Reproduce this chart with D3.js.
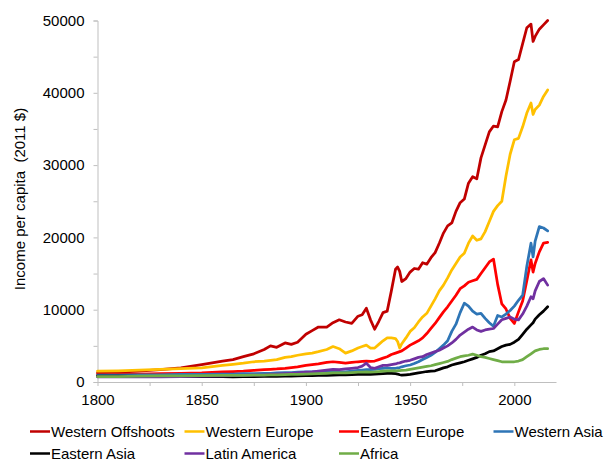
<!DOCTYPE html>
<html>
<head>
<meta charset="utf-8">
<script src="https://cdn.jsdelivr.net/npm/d3@7"></script>
<style>
  body { margin: 0; background: #fff; }
  svg { display: block; font-family: "Liberation Sans", Arial, sans-serif; }
</style>
</head>
<body>
<div id="chart"></div>
<script>
(function(d3) {
  'use strict';

  var years = [1800, 1810, 1820, 1830, 1840, 1850, 1860, 1865, 1870, 1875,
    1880, 1883, 1886, 1890, 1893, 1896, 1900, 1903, 1906, 1910,
    1913, 1916, 1919, 1922, 1925, 1927, 1929, 1931, 1933, 1935,
    1937, 1939, 1941, 1943, 1944, 1945, 1946, 1948, 1950, 1952,
    1954, 1956, 1958, 1960, 1962, 1964, 1966, 1968, 1970, 1972,
    1974, 1976, 1978, 1980, 1982, 1984, 1986, 1988, 1990, 1992,
    1994, 1996, 1998, 2000, 2002, 2004, 2006, 2008, 2009, 2010,
    2012, 2014, 2016];

  var westernOffshoots = [1250, 1350, 1500, 1700, 1950, 2400, 2900, 3100, 3500, 3900,
    4500, 5000, 4800, 5400, 5200, 5500, 6600, 7100, 7600, 7600,
    8200, 8600, 8300, 8100, 9100, 9300, 10200, 8600, 7300, 8400,
    9600, 9800, 12600, 15600, 15900, 15300, 13900, 14300, 15200, 15700,
    15600, 16500, 16300, 17200, 17900, 19200, 20600, 21600, 22000, 23600,
    24800, 25300, 27500, 28400, 28100, 31000, 32800, 34600, 35400, 35300,
    37400, 39000, 41600, 44300, 44600, 46800, 49000, 49500, 47100, 47800,
    48800, 49400, 50000];

  var westernEurope = [1500, 1550, 1650, 1750, 1850, 1950, 2300, 2450, 2600, 2800,
    2900, 3000, 3100, 3400, 3500, 3700, 3900, 4000, 4200, 4500,
    4900, 4600, 4000, 4300, 4700, 4900, 5100, 4700, 4700, 5200,
    5700, 6100, 6100, 6000, 5600, 4700, 5300, 6100, 7000, 7500,
    8300, 9000, 9500, 10500, 11500, 12600, 13400, 14400, 15500, 16400,
    17300, 17800, 19200, 20200, 19600, 19800, 20800, 22200, 23600, 24400,
    25000, 28500, 31500, 33500, 33700, 35300, 37200, 38600, 37000, 37700,
    38300, 39500, 40400];

  var easternEurope = [1000, 1050, 1100, 1150, 1200, 1250, 1400, 1450, 1500, 1600,
    1700, 1750, 1800, 1900, 2000, 2100, 2300, 2400, 2500, 2700,
    2800, 2700, 2600, 2700, 2800, 2850, 2900, 2850, 2900, 3100,
    3300, 3500, 3800, 4000, 4100, 4200, 4300, 4700, 5100, 5400,
    5700, 6100, 6700, 7400, 8100, 8900, 9700, 10400, 11200, 12000,
    12900, 13300, 13800, 14000, 14200, 15000, 15800, 16600, 17000, 13500,
    10800, 10100, 8800, 8100, 9700, 11200, 14000, 16900, 15200, 16400,
    18000, 19200, 19300];

  var westernAsia = [950, 950, 1000, 1000, 1050, 1050, 1100, 1100, 1150, 1150,
    1200, 1200, 1250, 1300, 1300, 1350, 1400, 1400, 1450, 1500,
    1550, 1450, 1400, 1500, 1600, 1650, 1700, 1700, 1750, 1850,
    1900, 1950, 1900, 1900, 1950, 2000, 2100, 2250, 2350, 2550,
    2800, 3100, 3400, 3700, 4100, 4600, 5100, 5700, 7000, 8000,
    9600, 10900, 10500, 9800, 9400, 9500, 8800, 8200, 7700, 9200,
    9000, 9400, 9900, 10500, 11300, 12000, 16000, 19200, 17300, 19500,
    21500, 21300, 20900];

  var easternAsia = [800, 800, 780, 770, 760, 750, 730, 720, 730, 750,
    770, 780, 790, 810, 820, 840, 870, 880, 900, 930,
    960, 980, 1000, 1020, 1040, 1060, 1080, 1070, 1090, 1120,
    1150, 1180, 1200, 1150, 1100, 1000, 950, 1000, 1050, 1150,
    1250, 1350, 1450, 1500, 1550, 1750, 1950, 2100, 2350, 2500,
    2650, 2800, 3000, 3200, 3400, 3700, 3900, 4200, 4300, 4600,
    4900, 5100, 5200, 5500, 5900, 6600, 7300, 7900, 8200, 8700,
    9300, 9800, 10400];

  var latinAmerica = [700, 700, 700, 720, 750, 800, 850, 870, 900, 950,
    1000, 1050, 1100, 1150, 1200, 1250, 1350, 1400, 1500, 1650,
    1750, 1700, 1800, 1900, 2000, 2200, 2600, 2000, 1900, 2100,
    2300, 2300, 2400, 2500, 2600, 2650, 2750, 2900, 3000, 3200,
    3400, 3500, 3800, 4000, 4200, 4400, 4700, 5000, 5400, 5900,
    6500, 6900, 7300, 7600, 7200, 7000, 7200, 7300, 7400, 8000,
    8600, 8800, 9000, 8700, 8600, 9400, 10500, 11800, 11500, 12600,
    13900, 14300, 13400];

  var africa = [750, 750, 800, 850, 850, 870, 900, 900, 920, 940,
    960, 980, 1000, 1020, 1040, 1060, 1100, 1120, 1150, 1200,
    1250, 1250, 1250, 1300, 1350, 1380, 1400, 1380, 1400, 1450,
    1500, 1550, 1550, 1550, 1560, 1580, 1600, 1650, 1750, 1850,
    1950, 2050, 2150, 2250, 2400, 2550, 2700, 2850, 3100, 3300,
    3500, 3600, 3700, 3850, 3700, 3500, 3400, 3250, 3100, 2950,
    2800, 2800, 2800, 2800, 2900, 3100, 3500, 3900, 4100, 4300,
    4500, 4600, 4600];

  var seriesNames = ['Western Offshoots', 'Western Europe', 'Eastern Europe', 'Western Asia',
    'Eastern Asia', 'Latin America', 'Africa'];
  var seriesValues = [westernOffshoots, westernEurope, easternEurope, westernAsia,
    easternAsia, latinAmerica, africa];
  var seriesColors = ['#C00000', '#FFC000', '#FF0000', '#2E75B6', '#000000', '#7030A0', '#70AD47'];

  var width = 606;
  var height = 460;

  var x = d3.scaleLinear().domain([1800, 2020]).range([97.5, 556]);
  var y = d3.scaleLinear().domain([0, 50000]).range([382, 20.5]);

  var svg = d3.select('#chart')
    .append('svg')
    .attr('width', width)
    .attr('height', height);

  // y axis
  var yAxis = svg.append('g')
    .attr('transform', 'translate(' + x(1800) + ',0)')
    .call(d3.axisLeft(y).tickValues(d3.range(0, 50001, 5000)).tickSize(4)
      .tickFormat(function(d) { return d % 10000 === 0 ? d : ''; }));
  yAxis.select('.domain').attr('stroke', '#BFBFBF');
  yAxis.selectAll('.tick line').attr('stroke', '#BFBFBF');
  yAxis.selectAll('.tick text')
    .attr('x', -13)
    .attr('fill', '#000')
    .style('font-size', '15px')
    .style('font-family', '"Liberation Sans", Arial, sans-serif');

  // x axis
  var xAxis = svg.append('g')
    .attr('transform', 'translate(0,' + y(0) + ')')
    .call(d3.axisBottom(x).tickValues(d3.range(1800, 2001, 25)).tickSize(4).tickSizeOuter(0)
      .tickFormat(function(d) { return d % 50 === 0 ? d : ''; }));
  xAxis.select('.domain').attr('stroke', '#BFBFBF');
  xAxis.selectAll('.tick line').attr('stroke', '#BFBFBF');
  xAxis.selectAll('.tick text')
    .attr('y', 12)
    .attr('fill', '#000')
    .style('font-size', '15px')
    .style('font-family', '"Liberation Sans", Arial, sans-serif');

  svg.append('text')
    .attr('transform', 'translate(25,199) rotate(-90)')
    .attr('text-anchor', 'middle')
    .style('font-size', '15px')
    .attr('fill', '#000')
    .attr('xml:space', 'preserve')
    .text('Income per capita  (2011 $)');

  var line = d3.line()
    .x(function(d) { return x(d[0]); })
    .y(function(d) { return y(d[1]); });

  svg.append('g').selectAll('path')
    .data(seriesValues)
    .enter()
    .append('path')
    .attr('d', function(vals) {
      return line(years.map(function(yr, i) { return [yr, vals[i]]; }));
    })
    .attr('fill', 'none')
    .attr('stroke', function(d, i) { return seriesColors[i]; })
    .attr('stroke-width', 2.75)
    .attr('stroke-linejoin', 'round')
    .attr('stroke-linecap', 'round');

  // legend: 4 columns, 2 rows
  var legend = svg.append('g').selectAll('g')
    .data(seriesNames)
    .enter()
    .append('g')
    .attr('transform', function(d, i) {
      return 'translate(' + (30 + (i % 4) * 154.5) + ',' + (i < 4 ? 431.5 : 453.5) + ')';
    });

  legend.append('line')
    .attr('x1', 0).attr('x2', 20)
    .attr('stroke', function(d, i) { return seriesColors[i]; })
    .attr('stroke-width', 2.5);

  legend.append('text')
    .attr('x', 21)
    .attr('y', 5)
    .style('font-size', '15px')
    .attr('fill', '#000')
    .text(function(d) { return d; });

})(window.d3);
</script>
</body>
</html>
